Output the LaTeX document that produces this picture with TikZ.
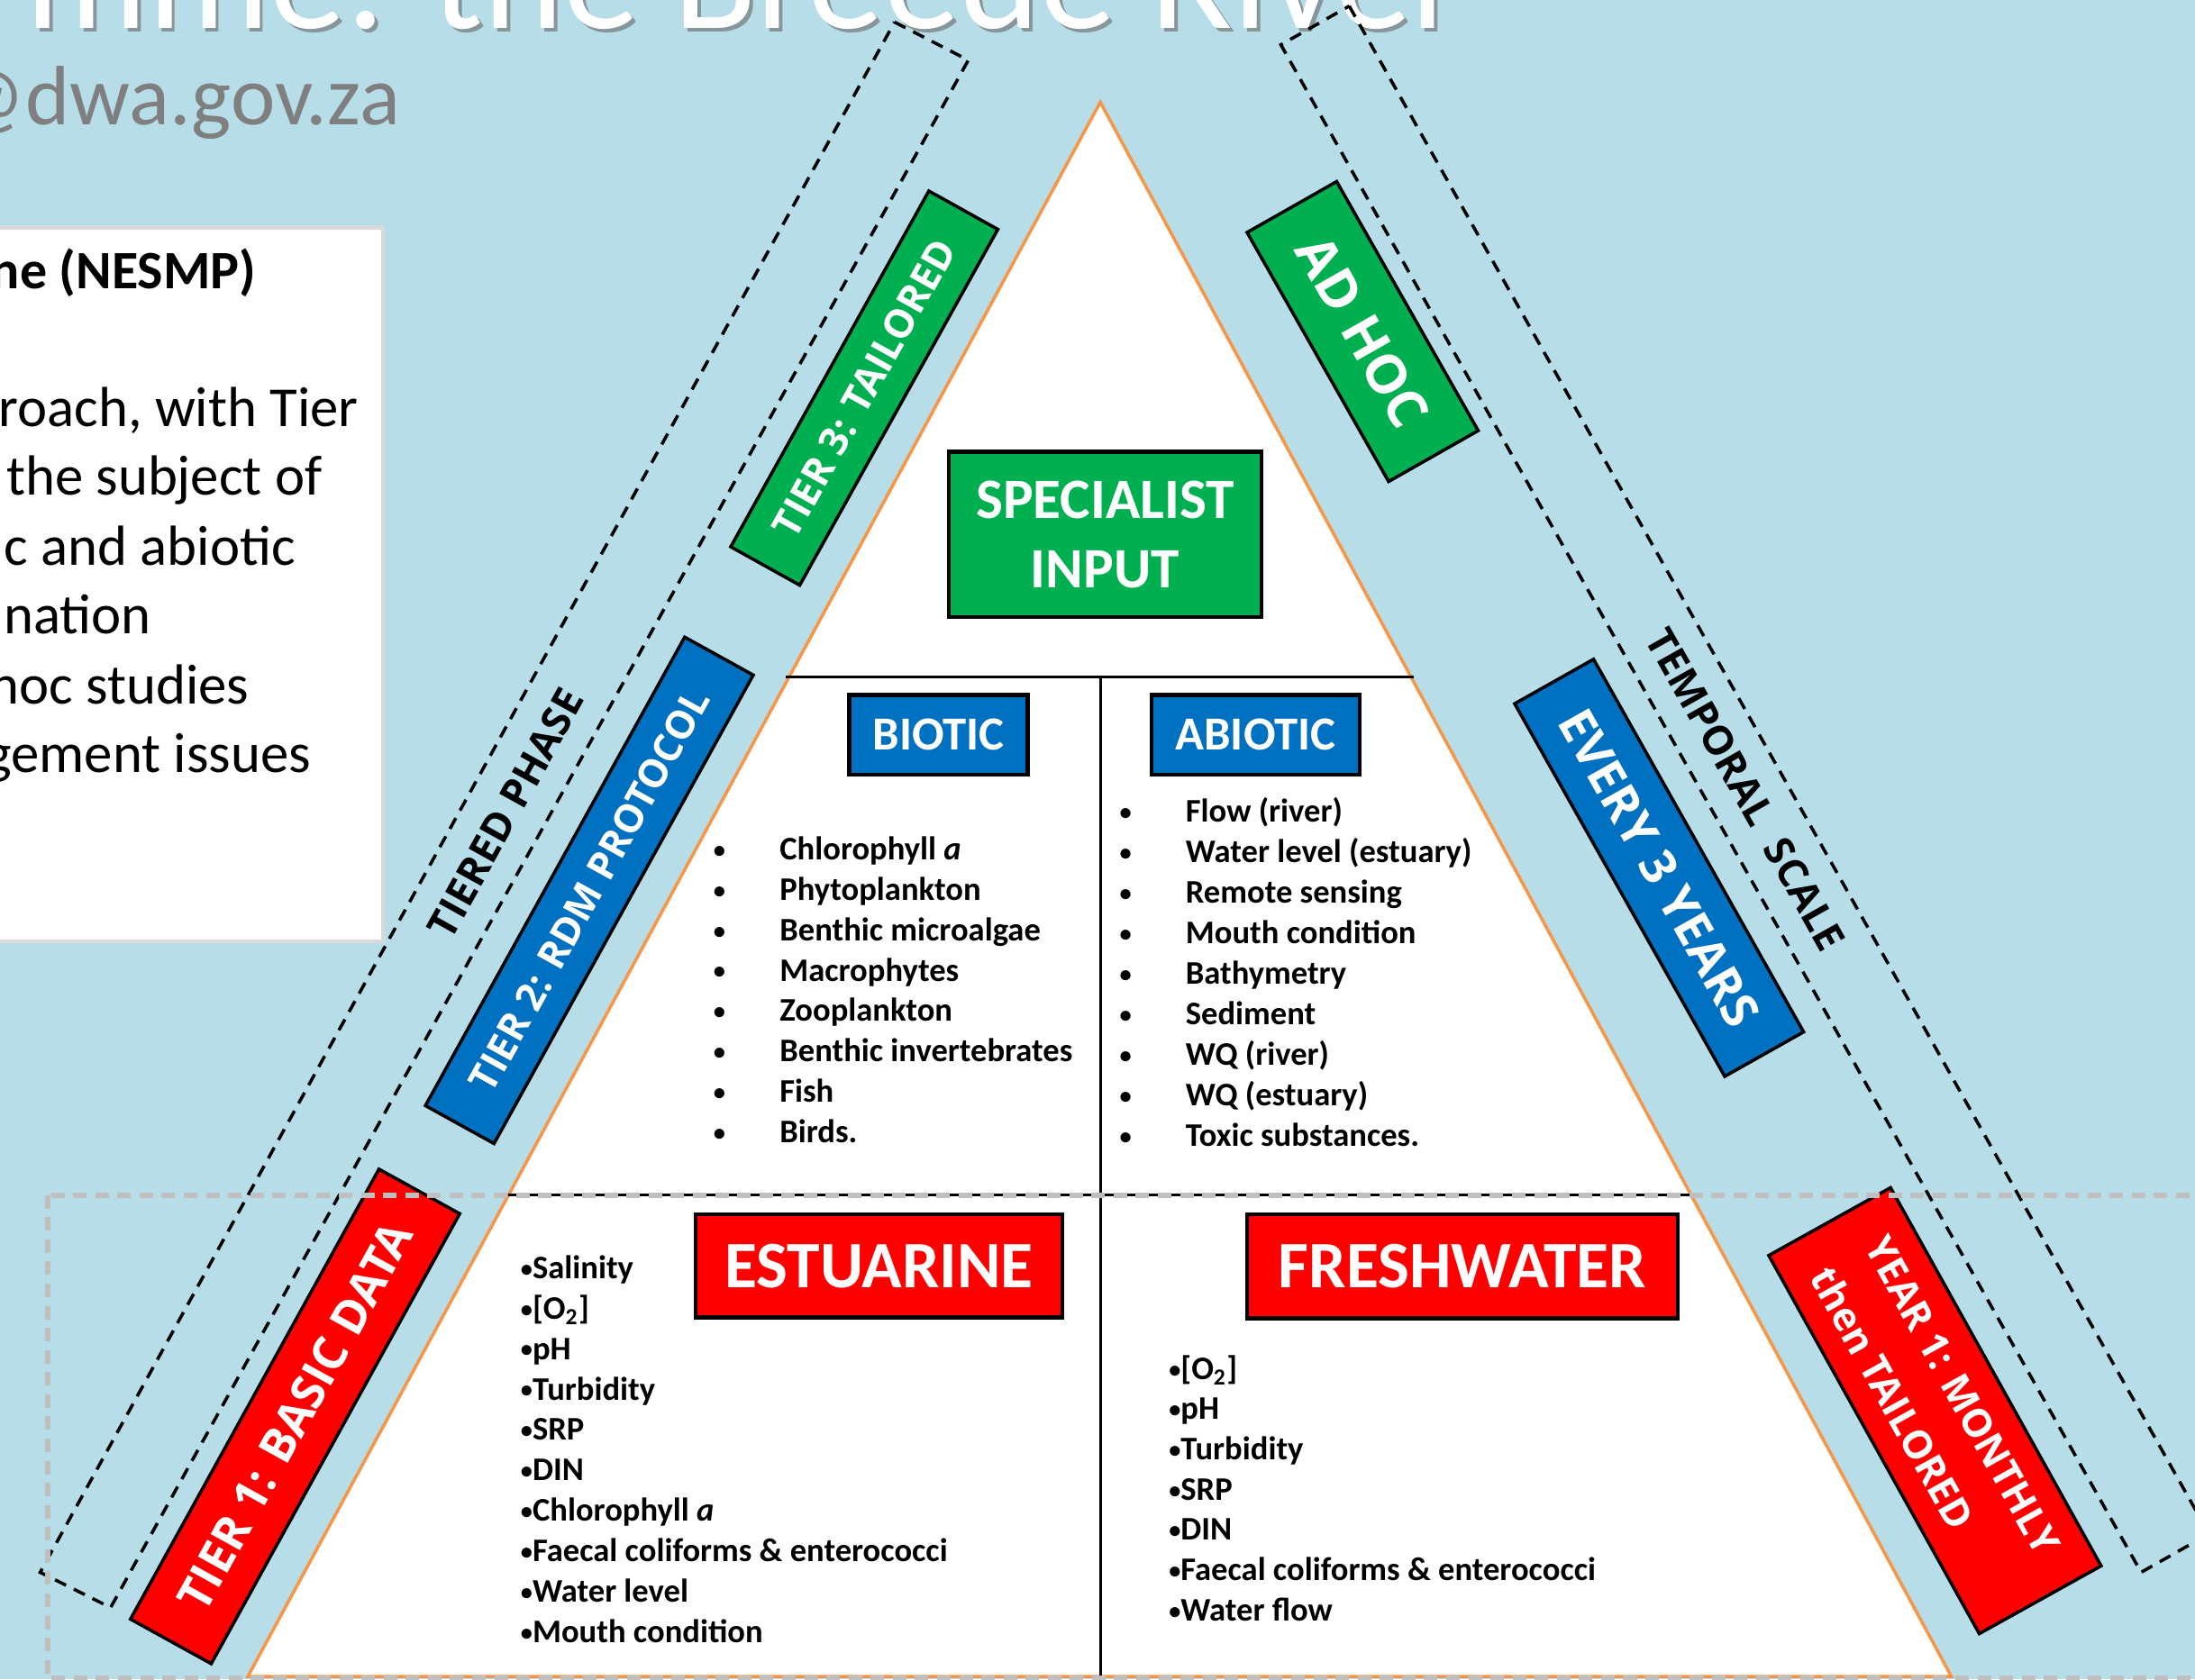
\documentclass[tikz,border=0pt]{standalone}
\usepackage{fontspec}
\usepackage{graphicx}
\setmainfont{Carlito}
\newfontfamily\labelfont{Open Sans}
\definecolor{bg}{HTML}{B7DEE8}
\definecolor{pgreen}{HTML}{00B050}
\definecolor{pblue}{HTML}{0070C0}
\definecolor{pred}{HTML}{FF0000}
\definecolor{porange}{HTML}{F79646}
\definecolor{dashgray}{HTML}{BFBFBF}
\definecolor{txtgray}{HTML}{7F7F7F}
\definecolor{boxgray}{HTML}{D9D9D9}
\newcommand\fs[1]{\fontsize{#1}{1.2\dimexpr#1pt\relax}\selectfont}
\newcommand\dotmark{\raisebox{0.06em}{\scalebox{0.72}{\textbullet}}}
\begin{document}
\begin{tikzpicture}[x=0.02cm,y=-0.02cm,
  txt/.style={inner sep=0pt, outer sep=0pt},
  listtxt/.style={txt, anchor=base west, font=\bfseries\fontsize{13.4}{16}\selectfont},
  bullet/.style={txt, anchor=base, font=\bfseries\fontsize{13.4}{16}\selectfont},
  headbox/.style={draw=black, line width=1.6pt, inner sep=0pt, text=white},
  tierbox/.style={draw=black, line width=1.3pt, inner sep=0pt, text=white},
  frame/.style={line width=1.3pt, dash pattern=on 5pt off 3.5pt},
  graydash/.style={draw=dashgray, line width=2.2pt, dash pattern=on 5.5pt off 3.5pt},
  divider/.style={draw=black, line width=1.1pt}]
\useasboundingbox (0,0) rectangle (1568,1200);
\fill[bg] (0,0) rectangle (1568,1200);

% heading of the slide
\node[txt, anchor=base east, text=black!60, opacity=0.6, font=\fs{62}] (titleshadow) at (1048.5,23) {mme: the Breede River};
\node[txt, anchor=base east, text=white, font=\fs{62}] (title) at (1046,20) {mme: the Breede River};
\node[txt, anchor=base east, text=txtgray, font=\fs{34.3}] (mail) at (286,89) {@dwa.gov.za};

% note panel on the left
\filldraw[fill=white, draw=boxgray, line width=1.7pt] (-10,162.4) rectangle (273.6,672.7);
\node[txt, anchor=base east, font=\bfseries\fs{22}] (nesmp) at (183,206) {ne (NESMP)};
\node[txt, anchor=base east, font=\fs{23}] (n1) at (256,305) {roach, with Tier};
\node[txt, anchor=base east, font=\fs{23}] (n2) at (230,354) {the subject of};
\node[txt, anchor=base east, font=\fs{23}] (n3) at (211,404) {c and abiotic};
\node[txt, anchor=base east, font=\fs{23}] (n4) at (108,453) {nation};
\node[txt, anchor=base east, font=\fs{23}] (n5) at (178,503) {hoc studies};
\node[txt, anchor=base east, font=\fs{23}] (n6) at (222,552) {gement issues};

% dashed frames along both flanks
\draw[frame] (639,15.8) -- (691.7,43) -- (79,1148.7) -- (28.7,1123.5) -- cycle;
\draw[frame] (963.8,4.3) -- (1578,1096) -- (1529.5,1123.5) -- (915,32) -- cycle;
\node[txt, rotate=61, font=\labelfont\bfseries\fs{16.4}] (tiered) at (361.3,581) {TIERED PHASE};
\node[txt, rotate=-60.6, font=\labelfont\bfseries\fs{16.4}] (temporal) at (1247,564) {TEMPORAL\hspace{0.55em}SCALE};

% pyramid
\coordinate (apex) at (786,73);
\coordinate (baseR) at (1394,1198);
\coordinate (baseL) at (177,1198);
\filldraw[fill=white, draw=porange, line width=1.3pt] (apex) -- (baseR) -- (baseL) -- cycle;
\draw[divider] (561.3,484) -- (1010.2,484);
\draw[divider] (363,854) -- (1207.7,854);
\draw[divider] (786,484) -- (786,1198);

% level headings
\node[headbox, fill=pgreen, minimum width=223.4*0.02cm, minimum height=118*0.02cm,
      align=center, font=\bfseries\fontsize{23.2}{28.3}\selectfont] (spec) at (789.4,381.9) {SPECIALIST\\INPUT};
\node[headbox, fill=pblue, minimum width=127.5*0.02cm, minimum height=56.9*0.02cm,
      font=\bfseries\fs{19.3}] (biotic) at (670.45,525.15) {BIOTIC};
\node[headbox, fill=pblue, minimum width=148.9*0.02cm, minimum height=56.9*0.02cm,
      font=\bfseries\fs{19.3}] (abiotic) at (896.95,525.15) {ABIOTIC};
\node[headbox, fill=pred, minimum width=262*0.02cm, minimum height=73.5*0.02cm,
      font=\bfseries\fs{27}] (estuarine) at (628,904.5) {ESTUARINE\hspace{0.3em}};
\node[headbox, fill=pred, minimum width=307.7*0.02cm, minimum height=74.5*0.02cm,
      font=\bfseries\fs{27}] (freshwater) at (1044.65,904.75) {FRESHWATER\hspace{0.3em}};

% biotic list
\foreach \t [count=\i] in {{Chlorophyll \textit{a}}, Phytoplankton, Benthic microalgae, Macrophytes,
    Zooplankton, Benthic invertebrates, Fish, Birds.} {
  \node[bullet] (biob\i) at (514,{614.5+(\i-1)*28.84}) {\dotmark};
  \node[listtxt] (bio\i) at (557,{614.5+(\i-1)*28.84}) {\t};
}
% abiotic list
\foreach \t [count=\i] in {Flow (river), Water level (estuary), Remote sensing, Mouth condition,
    Bathymetry, Sediment, WQ (river), WQ (estuary), Toxic substances.} {
  \node[bullet] (abiob\i) at (804,{587.4+(\i-1)*28.94}) {\dotmark};
  \node[listtxt] (abio\i) at (847,{587.4+(\i-1)*28.94}) {\t};
}
% estuarine list
\foreach \t [count=\i] in {Salinity, {[O\textsubscript{2}]}, pH, Turbidity, SRP, DIN, {Chlorophyll \textit{a}},
    Faecal coliforms \& enterococci, Water level, Mouth condition} {
  \node[listtxt] (est\i) at (372,{913.6+(\i-1)*28.9}) {\dotmark\t};
}
% freshwater list
\foreach \t [count=\i] in {{[O\textsubscript{2}]}, pH, Turbidity, SRP, DIN,
    Faecal coliforms \& enterococci, Water flow} {
  \node[listtxt] (fw\i) at (835,{985.6+(\i-1)*28.75}) {\dotmark\t};
}

% tier labels (left flank)
\node[tierbox, fill=pgreen, rotate=60.9, minimum width=291*0.02cm, minimum height=56.4*0.02cm,
      font=\labelfont\bfseries\fs{16.1}] (tier3) at (617.4,277.3) {TIER 3: TAILORED};
\node[tierbox, fill=pblue, rotate=61.05, minimum width=382.6*0.02cm, minimum height=56*0.02cm,
      font=\labelfont\bfseries\fs{15.9}] (tier2) at (421,636.2) {TIER 2: RDM PROTOCOL};
\node[tierbox, fill=pred, rotate=61.1, minimum width=367.3*0.02cm, minimum height=65.9*0.02cm,
      font=\labelfont\bfseries\fs{19.1}] (tier1) at (210.8,1012.1) {TIER 1: BASIC DATA};

% frequency labels (right flank)
\node[tierbox, fill=pgreen, rotate=-60.4, minimum width=204.7*0.02cm, minimum height=73.6*0.02cm,
      font=\labelfont\bfseries\fs{22}] (adhoc) at (973.4,236.9) {AD HOC};
\node[tierbox, fill=pblue, rotate=-60.6, minimum width=305.7*0.02cm, minimum height=64.7*0.02cm,
      font=\labelfont\bfseries\fs{20}] (every) at (1185.2,620.1) {EVERY 3 YEARS};
\node[tierbox, fill=pred, rotate=-60.9, minimum width=309.3*0.02cm, minimum height=99.6*0.02cm,
      align=left, font=\labelfont\bfseries\fontsize{16}{25.5}\selectfont] (year) at (1382.2,1008) {YEAR 1: MONTHLY\\then TAILORED};

% dashed outline of the lower band
\draw[graydash] (34,854) rectangle (1640,1199);
\end{tikzpicture}
\end{document}
